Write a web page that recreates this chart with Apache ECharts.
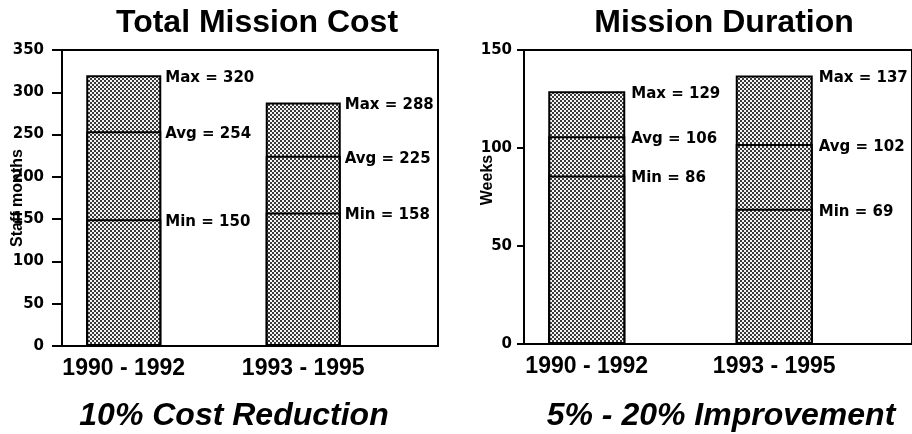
<!DOCTYPE html>
<html>
<head>
<meta charset="utf-8">
<script src="https://cdn.jsdelivr.net/npm/echarts@6/dist/echarts.min.js"></script>
<style>
  html, body { margin: 0; padding: 0; background: #fff; }
  #main { width: 912px; height: 434px; }
</style>
</head>
<body>
<div id="main"></div>
<script>
// data
var periods = ['1990 - 1992', '1993 - 1995'];
var costMin = [150, 158];
var costAvg = [254, 225];
var costMax = [320, 288];
var durMin = [86, 69];
var durAvg = [106, 102];
var durMax = [129, 137];
var costTicks = [0, 350, 50];   // min, max, step
var durTicks = [0, 150, 50];

// dotted grey fill like the old print
function makePattern() {
    var c = document.createElement('canvas');
    c.width = 4;
    c.height = 4;
    var g = c.getContext('2d');
    g.fillStyle = '#f4f4f4';
    g.fillRect(0, 0, 4, 4);
    g.fillStyle = '#3a3a3a';
    g.fillRect(0, 0, 2, 2);
    g.fillRect(2, 2, 2, 2);
    return c;
}
var fill = { image: makePattern(), repeat: 'repeat' };

var font = 'Liberation Sans, Arial, sans-serif';
var wideFont = 'DejaVu Sans, sans-serif';

// max, avg and min bars drawn on top of each other, the later one over the earlier
function level(values, prefix, xi, barWidth, offX) {
    return {
        type: 'bar',
        xAxisIndex: xi,
        yAxisIndex: xi,
        barWidth: barWidth,
        barGap: '-100%',
        data: values,
        itemStyle: { color: fill, borderColor: '#000', borderWidth: 2 },
        label: {
            show: true,
            position: ['100%', '0%'],
            align: 'left',
            verticalAlign: 'middle',
            offset: [offX, 3],
            fontFamily: wideFont,
            fontWeight: 'bold',
            fontSize: 15,
            color: '#000',
            formatter: function (p) {
                return prefix + p.value;
            }
        }
    };
}

function frameY(grid, ticks, name, gap, tickLen, margin, namePad) {
    return {
        gridIndex: grid,
        type: 'value',
        min: ticks[0],
        max: ticks[1],
        interval: ticks[2],
        name: name,
        nameLocation: 'middle',
        nameRotate: 90,
        nameGap: gap,
        nameMoveOverlap: false,
        nameTextStyle: {
            fontFamily: font, fontWeight: 'bold', fontSize: 16, color: '#000',
            padding: namePad
        },
        axisLine: { show: true, lineStyle: { color: '#000', width: 2 } },
        axisTick: { show: true, length: tickLen, lineStyle: { color: '#000', width: 2 } },
        axisLabel: {
            margin: margin,
            fontFamily: wideFont, fontWeight: 'bold', fontSize: 15, color: '#000'
        },
        splitLine: { show: false }
    };
}

function hiddenY(grid, ticks) {
    return { gridIndex: grid, type: 'value', min: ticks[0], max: ticks[1], show: false };
}

function catX(grid) {
    return {
        gridIndex: grid,
        type: 'category',
        data: periods,
        axisLine: { show: false },
        axisTick: { show: false },
        axisLabel: {
            margin: 11,
            fontFamily: font, fontWeight: 'bold', fontSize: 23, color: '#000'
        }
    };
}

var myChart = echarts.init(document.getElementById('main'));

var option = {
    animation: false,
    backgroundColor: '#fff',
    title: [
        { text: 'Total Mission Cost', left: 252, top: 2, textAlign: 'center',
          textStyle: { fontFamily: font, fontWeight: 'bold', fontSize: 32, color: '#000' } },
        { text: 'Mission Duration', left: 719, top: 2, textAlign: 'center',
          textStyle: { fontFamily: font, fontWeight: 'bold', fontSize: 32, color: '#000' } },
        { text: '10% Cost Reduction', left: 229, top: 395, textAlign: 'center',
          textStyle: { fontFamily: font, fontWeight: 'bold', fontStyle: 'italic', fontSize: 32, color: '#000' } },
        { text: '5% - 20% Improvement', left: 716, top: 395, textAlign: 'center',
          textStyle: { fontFamily: font, fontWeight: 'bold', fontStyle: 'italic', fontSize: 32, color: '#000' } }
    ],
    grid: [
        // frames with the y axes
        { left: 62, top: 50, width: 376, height: 296, show: true, borderColor: '#000', borderWidth: 2 },
        // bars
        { left: 34, top: 50, width: 359, height: 296 },
        { left: 524, top: 50, right: -6, height: 294, show: true, borderColor: '#000', borderWidth: 2 },
        { left: 493, top: 50, width: 375, height: 294 }
    ],
    xAxis: [
        { gridIndex: 0, type: 'category', data: [''], show: false },
        catX(1),
        { gridIndex: 2, type: 'category', data: [''], show: false },
        catX(3)
    ],
    yAxis: [
        frameY(0, costTicks, 'Staff months', 36, 10, 18, 0),
        hiddenY(1, costTicks),
        frameY(2, durTicks, 'Weeks', 28, 7, 12, [0, 0, 0, 34]),
        hiddenY(3, durTicks)
    ],
    series: [
        level(costMax, 'Max = ', 1, 75, 4),
        level(costAvg, 'Avg = ', 1, 75, 4),
        level(costMin, 'Min = ', 1, 75, 4),
        level(durMax, 'Max = ', 3, 77, 6),
        level(durAvg, 'Avg = ', 3, 77, 6),
        level(durMin, 'Min = ', 3, 77, 6)
    ]
};

myChart.setOption(option);

window.onresize = function () {
    myChart.resize();
};
</script>
</body>
</html>
